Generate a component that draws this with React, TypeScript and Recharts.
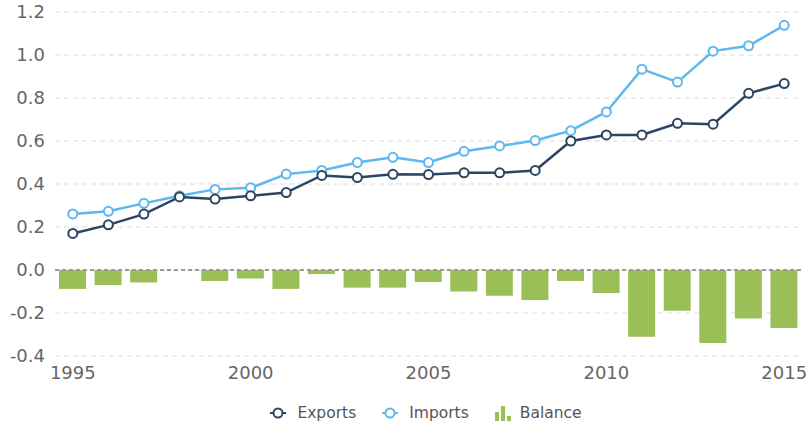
import { ComposedChart, Bar, Line, XAxis, YAxis, CartesianGrid, Legend, ReferenceLine } from "recharts";

const years = [1995, 1996, 1997, 1998, 1999, 2000, 2001, 2002, 2003, 2004, 2005, 2006, 2007, 2008, 2009, 2010, 2011, 2012, 2013, 2014, 2015];
const exportsVals = [0.17, 0.21, 0.26, 0.34, 0.33, 0.345, 0.36, 0.44, 0.43, 0.445, 0.444, 0.452, 0.452, 0.463, 0.6, 0.628, 0.628, 0.682, 0.678, 0.822, 0.867];
const importsVals = [0.261, 0.273, 0.31, 0.345, 0.375, 0.382, 0.446, 0.463, 0.5, 0.524, 0.5, 0.552, 0.577, 0.602, 0.648, 0.735, 0.934, 0.874, 1.018, 1.043, 1.138];
const balanceVals = [-0.088, -0.07, -0.058, 0, -0.051, -0.039, -0.088, -0.019, -0.082, -0.082, -0.056, -0.1, -0.12, -0.14, -0.051, -0.107, -0.31, -0.19, -0.34, -0.226, -0.27];
const yTicks = [-0.4, -0.2, 0, 0.2, 0.4, 0.6, 0.8, 1.0, 1.2];

const EXPORTS = "#2b4562";
const IMPORTS = "#5cb8ee";
const BALANCE = "#9bbf57";
const FONT = "'DejaVu Sans', sans-serif";

const data = years.map((y, i) => ({
    year: y,
    exports: exportsVals[i],
    imports: importsVals[i],
    balance: balanceVals[i],
}));

function LineIcon({ color }: { color: string }) {
    return (
        <svg width={16} height={12} style={{ marginRight: 11 }}>
            <line x1={0} y1={6} x2={16} y2={6} stroke={color} strokeWidth={2} />
            <circle cx={8} cy={6} r={4.5} fill="#fff" stroke={color} strokeWidth={2} />
        </svg>
    );
}

function BarIcon() {
    return (
        <svg width={19} height={16} style={{ marginRight: 6 }}>
            <rect x={0} y={7} width={4} height={9} fill={BALANCE} />
            <rect x={6} y={1} width={4} height={15} fill={BALANCE} />
            <rect x={12} y={11} width={4} height={5} fill={BALANCE} />
        </svg>
    );
}

function LegendContent() {
    const item = { display: "flex", alignItems: "center", margin: "0 13px", color: "#555", fontSize: 15.5, fontFamily: FONT };
    return (
        <div style={{ display: "flex", justifyContent: "center", alignItems: "center", height: 28, marginLeft: 50 }}>
            <div style={item}><LineIcon color={EXPORTS} />Exports</div>
            <div style={item}><LineIcon color={IMPORTS} />Imports</div>
            <div style={item}><BarIcon />Balance</div>
        </div>
    );
}

export default function App() {
    return (
        <div style={{ position: "absolute", left: 0, top: 0, width: 807, height: 427, background: "#fff" }}>
            <ComposedChart width={807} height={427} data={data} margin={{ top: 12, right: 5, left: 0, bottom: 0 }}>
                <CartesianGrid stroke="#dcdcdc" strokeDasharray="5 4" vertical={false} />
                <XAxis
                    dataKey="year"
                    interval={4}
                    axisLine={false}
                    tickLine={false}
                    height={43}
                    tickMargin={4}
                    tick={{ fontSize: 18, fill: "#666", fontFamily: FONT }}
                />
                <YAxis
                    domain={[-0.4, 1.2]}
                    ticks={yTicks}
                    width={55}
                    axisLine={false}
                    tickLine={false}
                    tickMargin={4}
                    tickFormatter={(v: number) => v.toFixed(1)}
                    tick={{ fontSize: 18, fill: "#666", fontFamily: FONT }}
                />
                <Bar dataKey="balance" fill={BALANCE} barSize={27} isAnimationActive={false} />
                <ReferenceLine y={0} stroke="#9a9a9a" strokeWidth={2} strokeDasharray="4 3" />
                <Line
                    dataKey="imports"
                    stroke={IMPORTS}
                    strokeWidth={2.5}
                    dot={{ r: 4.5, fill: "#fff", stroke: IMPORTS, strokeWidth: 2 }}
                    isAnimationActive={false}
                />
                <Line
                    dataKey="exports"
                    stroke={EXPORTS}
                    strokeWidth={2.5}
                    dot={{ r: 4.5, fill: "#fff", stroke: EXPORTS, strokeWidth: 2 }}
                    isAnimationActive={false}
                />
                <Legend verticalAlign="bottom" content={<LegendContent />} />
            </ComposedChart>
        </div>
    );
}
